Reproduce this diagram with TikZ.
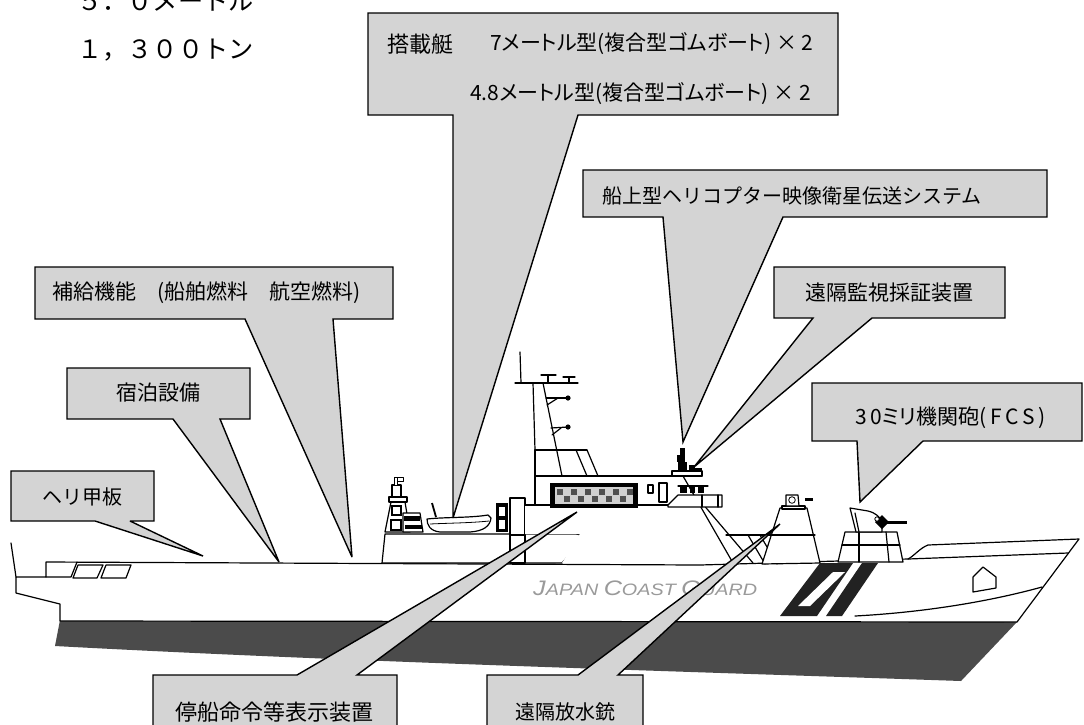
\documentclass[tikz,border=0pt]{standalone}
\usepackage{fontspec}
\newfontfamily\jp{Noto Sans CJK JP}
\newfontfamily\jpp[RawFeature=+palt]{Noto Sans CJK JP}
\setsansfont{Liberation Sans}
\definecolor{calloutgray}{HTML}{D4D4D4}
\definecolor{hulldark}{HTML}{4B4B4B}
\definecolor{markdark}{HTML}{222222}
\definecolor{logogray}{HTML}{9A9A9A}
\definecolor{panelgray}{HTML}{D0D0D0}
\definecolor{checkdark}{HTML}{505050}
\tikzset{
  callout/.style={draw=black, fill=calloutgray, line width=1.4pt, line join=miter, miter limit=4},
  lbl/.style={inner sep=0pt, font=\jp\fontsize{21}{25}\selectfont},
  body/.style={draw=black, fill=white, line width=1.2pt, line join=round},
  edge/.style={draw=black, line width=1.2pt, line cap=round, line join=round},
  fine/.style={draw=black, line width=0.8pt},
}
\begin{document}
\begin{tikzpicture}[x=1pt,y=-1pt]
\useasboundingbox (0,0) rectangle (1084,724);

% principal particulars
\node[anchor=base west, inner sep=0pt, font=\jp\fontsize{25.2}{30}\selectfont] (len) at (77,10) {５．０メートル};
\node[anchor=base west, inner sep=0pt, font=\jp\fontsize{25.2}{30}\selectfont] (ton) at (77,58) {１，３００トン};

% ---------------- hull ----------------
\fill[hulldark] (60,620) -- (1017,622) -- (961,681) .. controls (700,672) and (350,662) .. (55,646) -- cycle;
\path[body] (16,577) -- (16,593) -- (60,604) -- (60,621) -- (1017,622) -- (1079,539) -- (928,545)
   .. controls (920,548) and (914,556) .. (908,559) -- (700,565) -- (46,562) -- (46,577) -- cycle;
% bow
\draw[edge] (908,559) -- (1068,553);
\draw[edge] (855,616) .. controls (930,612) and (995,600) .. (1042,587);
\draw[edge, fill=white] (973,577) -- (983,567) -- (996,577) -- (996,588) -- (973,592) -- cycle;
% stern and flight deck
\draw[edge] (11,543) -- (16,577);
\draw[edge] (46,577) -- (71,577) -- (77,562);
\draw[edge] (78,565) -- (103,565) -- (97,578) -- (73,578) -- cycle;
\draw[edge] (106,565) -- (131,565) -- (126,578) -- (101,578) -- cycle;

% hull marking
\node[anchor=base west, inner sep=0pt, text=logogray, font=\sffamily\itshape, xscale=1.2] (logo) at (533,595)
  {\fontsize{21}{21}\selectfont J\fontsize{16.5}{16}\selectfont APAN \fontsize{21}{21}\selectfont C\fontsize{16.5}{16}\selectfont OAST \fontsize{21}{21}\selectfont G\fontsize{16.5}{16}\selectfont UARD};
\fill[markdark] (820,563) -- (853,563) -- (817,616) -- (780,616) -- cycle;
\fill[white] (833,572) -- (845,572) -- (810,606) -- (798,606) -- cycle;
\fill[markdark] (862,563) -- (878,563) -- (842,616) -- (826,616) -- cycle;

% ---------------- aft deckhouse ----------------
\path[body] (382,563) -- (385,534) -- (576,534) .. controls (582,534) and (584,538) .. (580,542) -- (562,563) -- cycle;
% aft mast tower
\path[body] (385,532) -- (391,502) -- (405,502) -- (410,532) -- cycle;
\fill[black] (391,505) rectangle (402,516);
\fill[white] (393,507) rectangle (400,514);
\fill[black] (390,519) rectangle (402,531);
\fill[white] (392,521) rectangle (400,529);
\path[body] (389,497) rectangle (407,502);
\path[body] (392,485) rectangle (401,497);
\path[body, line width=0.9pt] (394,477) rectangle (397,485);
\path[body, line width=0.9pt] (397,477) rectangle (403,481);
\path[body] (403,513) -- (420,513) -- (423,532) -- (403,532) -- cycle;
\fill[black] (404,516) rectangle (420,521);
\fill[black] (405,525) rectangle (422,529);
% rigid inflatable boat
\draw[line width=1.8pt] (432,503) -- (436,517);
\path[body] (427,519) .. controls (445,517) and (470,518) .. (488,515) -- (491,518)
   .. controls (490,526) and (484,531) .. (470,532) -- (440,532) .. controls (430,531) and (427,525) .. (427,519) -- cycle;
\draw[fine] (430,524) .. controls (450,523) and (470,523) .. (489,521);
% small lockers
\fill[black] (496,503) rectangle (508,532);
\fill[white] (499,507) rectangle (505,516);
\fill[white] (499,520) rectangle (505,529);
\path[body] (510,498) rectangle (525,563);
\draw[edge] (510,535) -- (525,535);

% ---------------- main superstructure ----------------
\fill[white] (525,534) -- (525,505) -- (535,505) -- (535,450) -- (587,450) -- (598,476) -- (683,476) -- (733,563) -- (562,563) -- (580,534) -- cycle;
\draw[edge] (525,505) -- (668,505);
\draw[edge] (535,505) -- (535,450) -- (587,450);
\draw[edge] (535,476) -- (702,476);
\draw[edge] (576,450) -- (587,476);
\draw[edge] (587,450) -- (598,476);
\draw[edge] (683,476) -- (733,563);
\draw[edge] (702,503) -- (753,563);
% mast with radar yard
\draw[edge] (533,383) -- (535,450);
\draw[edge] (543,383) -- (562,476);
\draw[edge] (520,352) -- (521,383);
\draw[edge] (515,383) -- (578,383);
\draw[edge] (548,376) -- (548,383);
\draw[edge] (541,375) -- (556,375);
\draw[edge] (569,378) -- (569,383);
\draw[edge] (563,377) -- (575,377);
\draw[edge] (546,398) -- (568,398);
\draw[edge] (547,405) -- (558,398);
\fill (568,398) circle (2.6);
\draw[edge] (551,428) -- (568,427);
\draw[edge] (552,435) -- (561,428);
\fill (568,427) circle (2.6);
% stop-order display
\fill[black] (550,483) rectangle (638,508);
\fill[panelgray] (555,487) rectangle (633,504);
\foreach \xx in {557,571,...,627} \fill[checkdark] (\xx,489) rectangle ++(6,6);
\foreach \xx in {564,578,...,627} \fill[checkdark] (\xx,496) rectangle ++(6,6);
% bridge windows, door, wing
\draw[edge] (648,485) rectangle (653,493);
\draw[edge] (659,483) rectangle (667,502);
\path[body] (668,505) -- (678,495) -- (722,495) -- (722,507) -- (668,507) -- cycle;
\draw[edge] (702,495) -- (702,507);
\draw[edge] (718,495) -- (718,507);
\draw[edge] (678,486) -- (708,486);
\fill[black] (680,487) rectangle (687,493);
\fill[black] (690,487) rectangle (695,493);
\fill[black] (698,487) rectangle (704,493);
% satellite transmission antenna
\path[body] (672,471) rectangle (702,476);
\fill[black] (678,462) rectangle (687,472);
\fill[black] (677,455) rectangle (685,462);
\fill[black] (680,448) rectangle (685,455);
\fill[black] (689,465) rectangle (695,472);
\fill[black] (695,468) rectangle (702,472);
% forward deckhouse
\draw[edge] (726,535) -- (815,535);
\draw[edge] (748,535) -- (765,564);
\draw[edge] (760,535) -- (777,564);
% water cannon platform
\path[body] (762,564) -- (780,508) -- (807,508) -- (820,563) -- cycle;
\draw[edge] (771,535) -- (814,535);
\path[body] (782,506) rectangle (805,509);
\path[body] (786,495) -- (798,495) -- (799,506) -- (786,506) -- cycle;
\draw[fine] (792,500) circle (3.3);
\draw[line width=3pt] (805,499.5) -- (813,499.5);
% 30 mm gun
\path[body] (838,562) -- (845,532) -- (897,532) -- (903,562) -- cycle;
\draw[edge] (842,545) -- (900,545);
\draw[edge] (859,532) -- (859,562);
\draw[edge] (886,532) -- (889,562);
\path[body] (850,508) -- (868,511) .. controls (876,513) and (880,517) .. (882,522) -- (882,532) -- (856,532) -- cycle;
\draw[edge] (855,513) -- (859,532);
\fill[black] (882,515) -- (889,522) -- (882,529) -- (875,522) -- cycle;
\draw[line width=3pt] (884,522) -- (907,522);
\draw[fine, fill=white] (877,519) circle (2.2);

% ---------------- callouts ----------------
% boats carried
\coordinate (boatTip) at (453,518);
\path[callout] (368,13) -- (838,13) -- (838,115) -- (578,115) -- (boatTip) -- (453,115) -- (368,115) -- cycle;
\node[lbl, anchor=west, font=\jp\fontsize{22}{26}\selectfont] (boatHead) at (387,44) {搭載艇};
\node[lbl, anchor=west, font=\jpp\fontsize{21}{26}\selectfont] (boatA) at (490,44) {7メートル型(複合型ゴムボート) × 2};
\node[lbl, anchor=west, font=\jpp\fontsize{21}{26}\selectfont] (boatB) at (470,94) {4.8メートル型(複合型ゴムボート) × 2};
% helicopter video satellite link
\coordinate (satTip) at (683,442);
\path[callout] (583,170) -- (1047,170) -- (1047,217) -- (783,217) -- (satTip) -- (663,217) -- (583,217) -- cycle;
\node[lbl, anchor=west, font=\jp\fontsize{20}{24}\selectfont] (sat) at (602,196) {船上型ヘリコプター映像衛星伝送システム};
% remote surveillance camera
\coordinate (camTip) at (694,467);
\path[callout] (774,267) -- (1005,267) -- (1005,318) -- (872,318) -- (camTip) -- (813,318) -- (774,318) -- cycle;
\node[lbl] (cam) at (889,293) {遠隔監視採証装置};
% 30 mm gun
\coordinate (gunTip) at (860,502);
\path[callout] (812,383) -- (1082,383) -- (1082,441) -- (923,441) -- (gunTip) -- (857,441) -- (812,441) -- cycle;
\node[lbl, anchor=west, font=\jpp\fontsize{21}{25}\selectfont] (gun) at (855,418) {3\,0ミリ機関砲(\,F\,C\,S\,)};
% replenishment
\coordinate (fuelTip) at (352,557);
\path[callout] (35,267) -- (393,267) -- (393,319) -- (333,319) -- (fuelTip) -- (245,319) -- (35,319) -- cycle;
\node[lbl, anchor=west] (fuel) at (52,293) {補給機能　(船舶燃料　航空燃料)};
% accommodation
\coordinate (bunkTip) at (279,562);
\path[callout] (67,368) -- (250,368) -- (250,419) -- (220,419) -- (bunkTip) -- (173,419) -- (67,419) -- cycle;
\node[lbl] (bunk) at (158,393) {宿泊設備};
% helicopter deck
\coordinate (heliTip) at (203,556);
\path[callout] (11,471) -- (154,471) -- (154,521) -- (130,521) -- (heliTip) -- (95,521) -- (11,521) -- cycle;
\node[lbl, font=\jp\fontsize{20}{24}\selectfont] (heli) at (82,497) {ヘリ甲板};
% stop-order display
\coordinate (dispTip) at (577,512);
\path[callout] (153,740) -- (153,675) -- (297,675) -- (dispTip) -- (357,675) -- (397,675) -- (397,740) -- cycle;
\node[lbl, font=\jp\fontsize{22}{26}\selectfont] (disp) at (274,712) {停船命令等表示装置};
% remote water cannon
\coordinate (waterTip) at (780,524);
\path[callout] (487,740) -- (487,675) -- (578,675) -- (waterTip) -- (618,675) -- (643,675) -- (643,740) -- cycle;
\node[lbl, font=\jp\fontsize{20}{24}\selectfont] (water) at (565,712) {遠隔放水銃};
\end{tikzpicture}
\end{document}
